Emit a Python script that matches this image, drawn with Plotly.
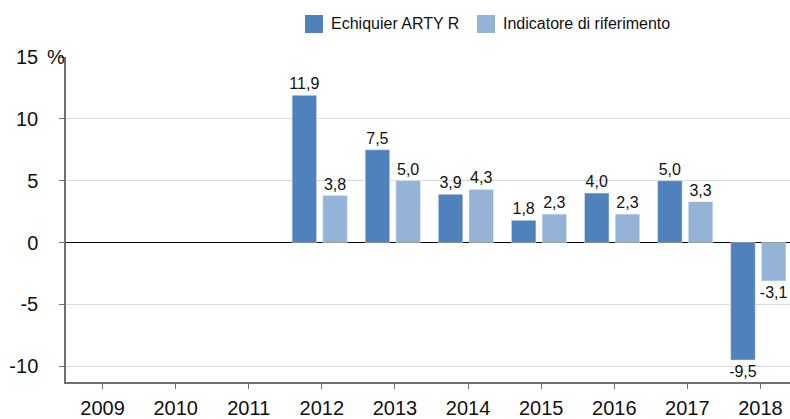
import plotly.graph_objects as go

years = ["2009", "2010", "2011", "2012", "2013", "2014", "2015", "2016", "2017", "2018"]
fund = [None, None, None, 11.9, 7.5, 3.9, 1.8, 4.0, 5.0, -9.5]
benchmark = [None, None, None, 3.8, 5.0, 4.3, 2.3, 2.3, 3.3, -3.1]
y_ticks = [-10, -5, 0, 5, 10, 15]
y_tick_text = ["-10", "-5", "0", "5", "10", "15"]
series_names = ["Echiquier ARTY R", "Indicatore di riferimento"]

FONT = "Arial, Liberation Sans, sans-serif"
DARK = "#4F81BD"
LIGHT = "#95B3D7"
TEXT = "#111111"
colors = [DARK, LIGHT]

# bar width and left-edge offsets, in category units
BAR_W = 0.335
offsets = [-0.407, 0.013]

fig = go.Figure()
for name, vals, color, off in zip(series_names, [fund, benchmark], colors, offsets):
    fig.add_trace(go.Bar(
        x=years, y=vals, name=name, marker_color=color,
        width=BAR_W, offset=off,
        texttemplate="%{y:.1f}", textposition="outside", cliponaxis=False,
        constraintext="none",
        textfont=dict(family=FONT, size=16, color=TEXT),
    ))

fig.update_layout(
    width=790, height=419,
    margin=dict(l=66, r=0, t=57, b=37),
    paper_bgcolor="white", plot_bgcolor="white",
    separators=", ",
    barmode="overlay",
    font=dict(family=FONT, size=20, color=TEXT),
    showlegend=False,
    xaxis=dict(
        type="category", range=[-0.5, 9.404], automargin=False,
        showline=True, linecolor="#707070", linewidth=1.5,
        ticks="outside", ticklen=5, tickcolor="#707070",
        showgrid=False, ticklabelstandoff=2,
        tickfont=dict(family=FONT, size=20, color=TEXT),
    ),
    yaxis=dict(
        range=[-11.27, 15], tickvals=y_ticks, ticktext=y_tick_text,
        automargin=False,
        showline=True, linecolor="#707070", linewidth=1.5,
        ticks="outside", ticklen=5, tickcolor="#707070",
        showgrid=True, gridcolor="#d9d9d9", gridwidth=1,
        zeroline=True, zerolinecolor="#000000", zerolinewidth=1,
        ticklabelstandoff=17,
        tickfont=dict(family=FONT, size=20, color=TEXT),
    ),
)

# unit marker next to the top tick label
fig.add_annotation(
    x=0, xref="paper", y=15, yref="y", text="%", showarrow=False,
    xanchor="right", xshift=1, yanchor="middle",
    font=dict(family=FONT, size=20, color=TEXT),
)

# legend row above the plot: colour swatch + series name
plot_left, plot_w = 66, 724
plot_bottom, plot_h = 382, 325
def px_x(px):
    return (px - plot_left) / plot_w
def px_y(py):
    return (plot_bottom - py) / plot_h

for name, color, sx in zip(series_names, colors, [305, 477]):
    fig.add_shape(
        type="rect", xref="paper", yref="paper",
        x0=px_x(sx), x1=px_x(sx + 18), y0=px_y(33), y1=px_y(15),
        fillcolor=color, line_width=0,
    )
    fig.add_annotation(
        x=px_x(sx + 24), y=px_y(24), xref="paper", yref="paper",
        text=name, showarrow=False, xanchor="left", yanchor="middle",
        font=dict(family=FONT, size=16, color=TEXT),
    )

fig.write_html("out.html")
